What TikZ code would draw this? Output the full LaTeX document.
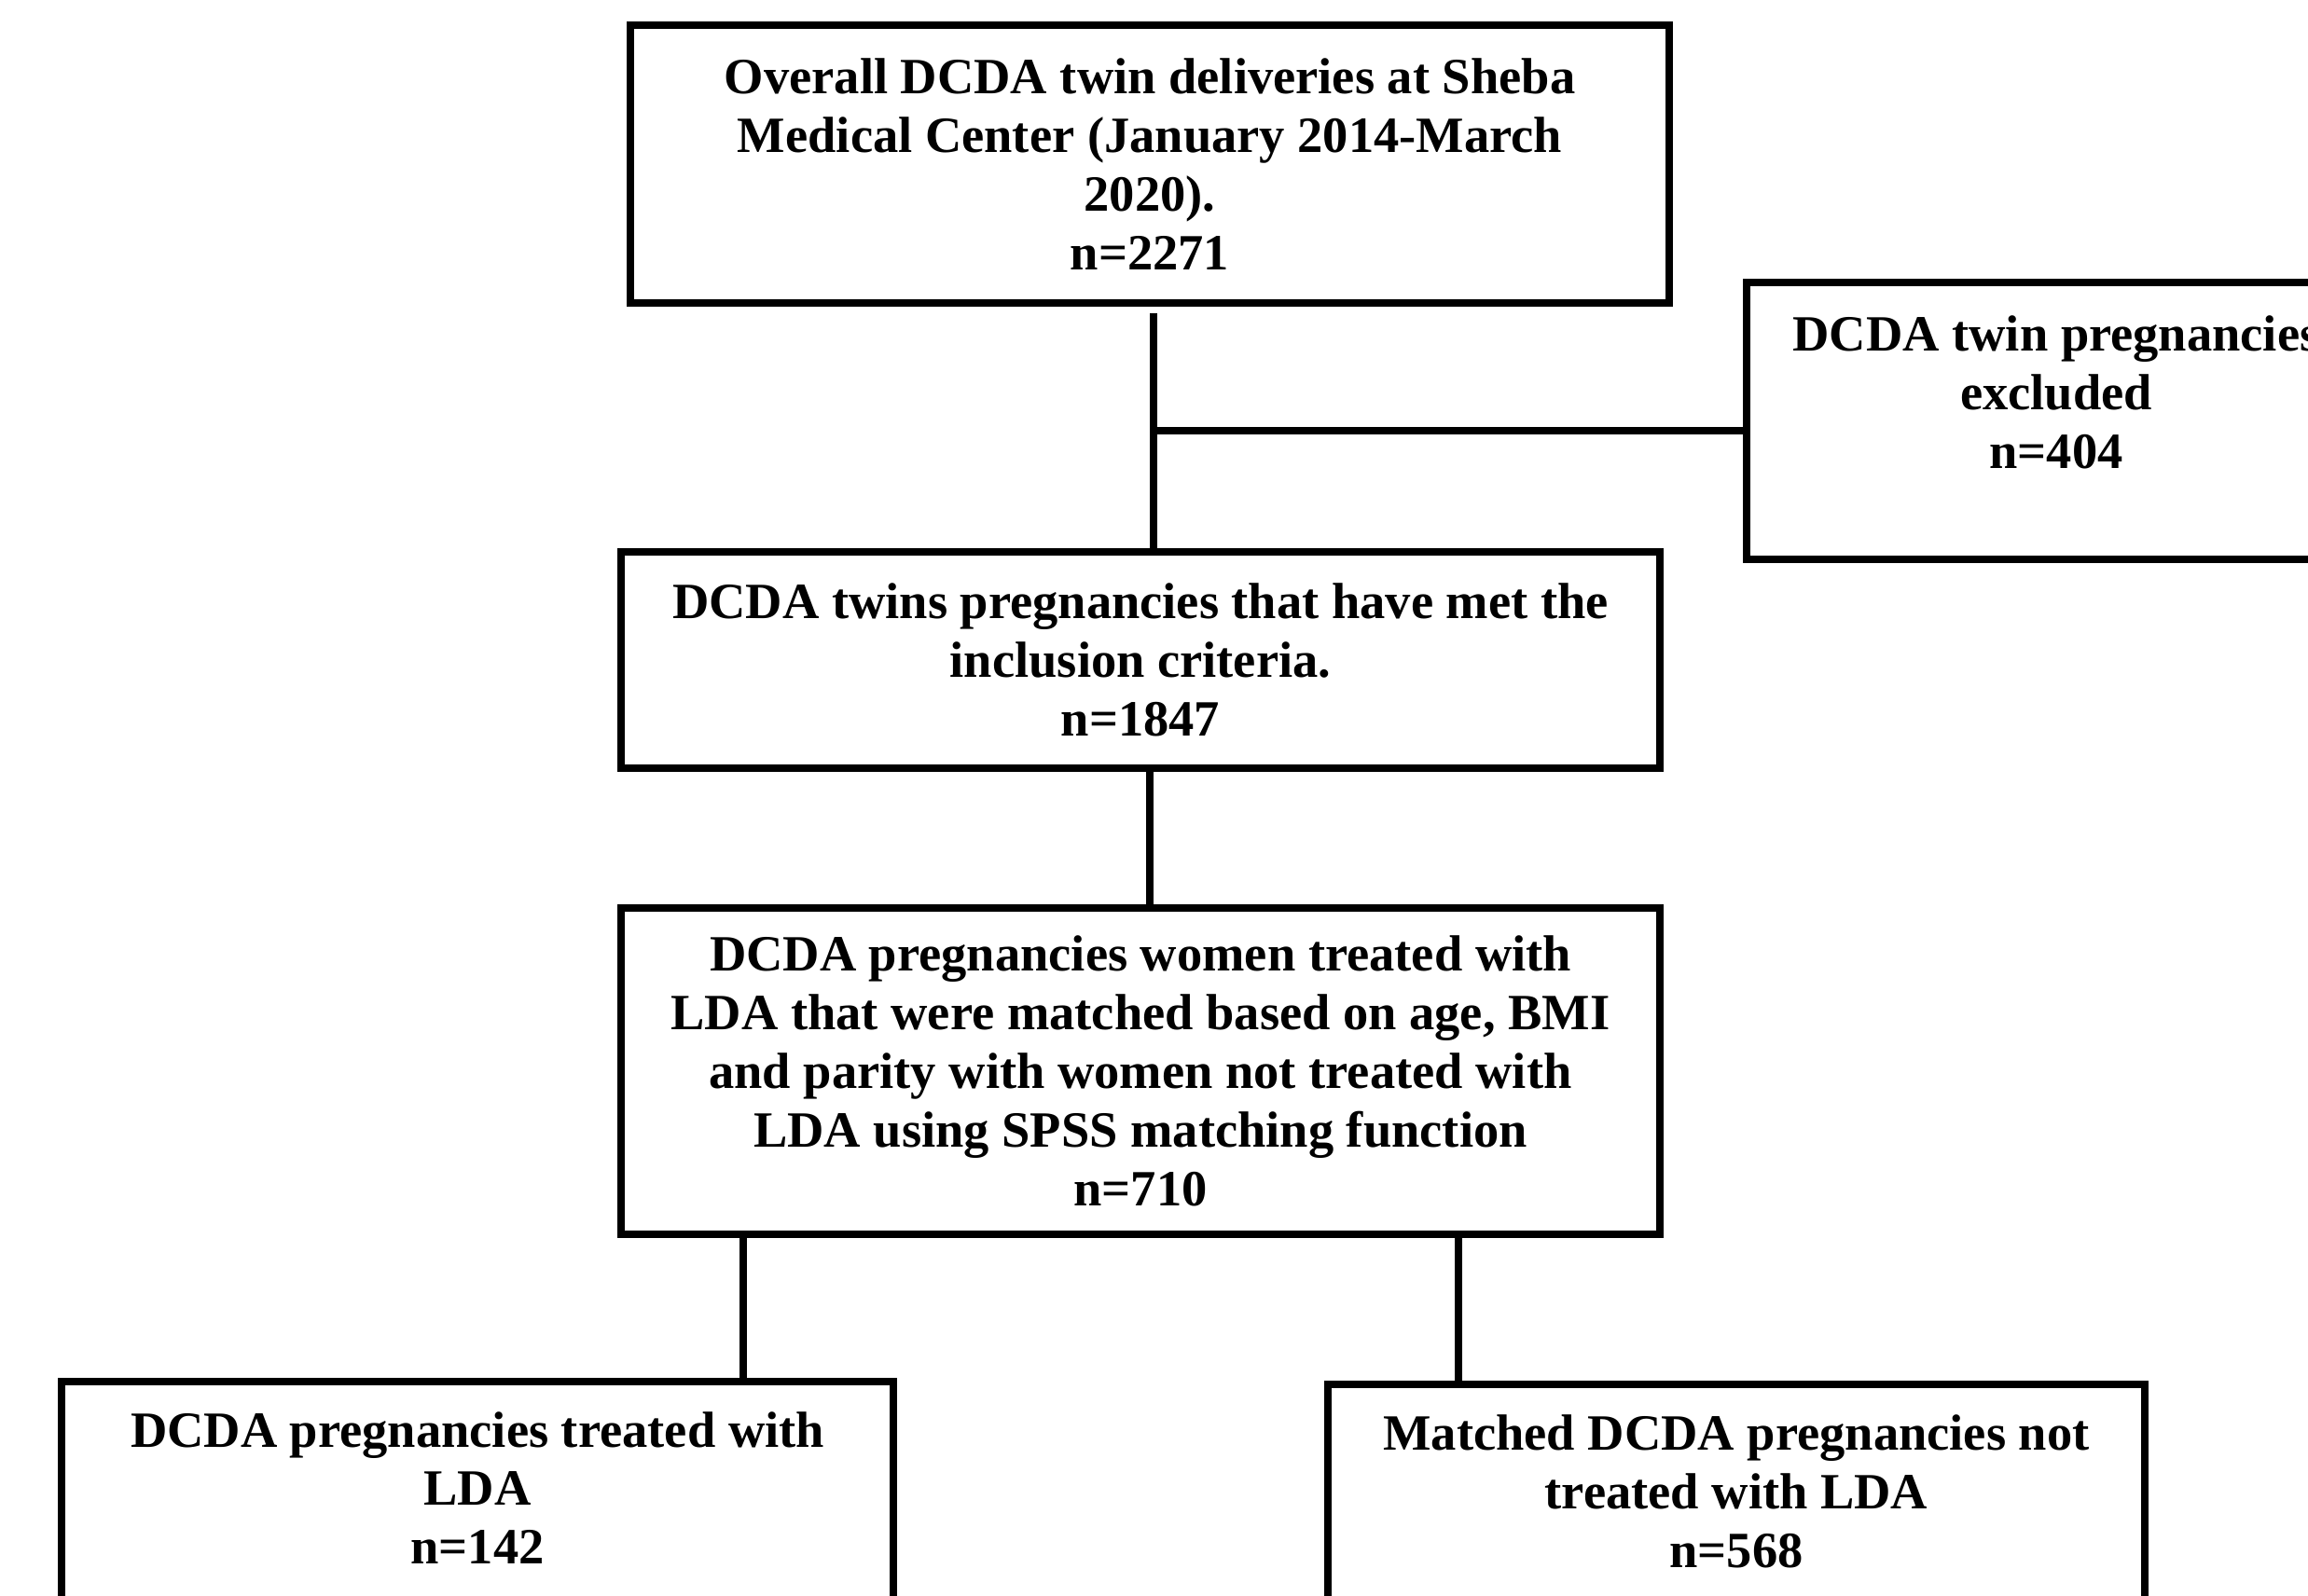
\documentclass[tikz,border=0pt]{standalone}
\usepackage{fontspec}
\setmainfont{Liberation Serif}
\begin{document}
\begin{tikzpicture}[
  box/.style={draw=black, line width=2.5pt, rectangle, inner sep=0pt},
  txt/.style={align=center, font=\bfseries\fontsize{15.5}{17.9}\selectfont},
  conn/.style={draw=black, line width=2.5pt}
]
\useasboundingbox (0,0) rectangle (24.75,17.11);
\clip (0,0) rectangle (24.75,17.11);
\fill[white] (0,0) rectangle (24.75,17.11);

\node[box, txt, minimum width=11.14cm, minimum height=2.98cm] (top) at (12.33,15.35)
  {Overall DCDA twin deliveries at Sheba\\Medical Center (January 2014-March\\2020).\\n=2271};

\node[box, minimum width=6.64cm, minimum height=2.97cm] (excl) at (22.05,12.595) {};
\node[txt] (excltxt) at (22.05,12.90) {DCDA twin pregnancies\\excluded\\n=404};

\node[box, txt, minimum width=11.14cm, minimum height=2.32cm] (b2) at (12.23,10.03)
  {DCDA twins pregnancies that have met the\\inclusion criteria.\\n=1847};

\node[box, txt, minimum width=11.14cm, minimum height=3.50cm] (b3) at (12.23,5.62)
  {DCDA pregnancies women treated with\\LDA that were matched based on age, BMI\\and parity with women not treated with\\LDA using SPSS matching function\\n=710};

\node[box, minimum width=8.92cm, minimum height=2.79cm] (b4) at (5.12,0.895) {};
\node[txt] (b4txt) at (5.12,1.15) {DCDA pregnancies treated with\\LDA\\n=142};

\node[box, minimum width=8.76cm, minimum height=2.76cm] (b5) at (18.62,0.88) {};
\node[txt] (b5txt) at (18.62,1.11) {Matched DCDA pregnancies not\\treated with LDA\\n=568};

\coordinate (t1) at (12.37,13.75);
\coordinate (junc) at (12.37,12.49);
\coordinate (c4) at (7.97,0);
\coordinate (c5) at (15.64,0);

\draw[conn] (t1) -- (t1 |- b2.north);
\draw[conn] (junc) -- (junc -| excl.west);
\draw[conn] ([xshift=1mm]b2.south) -- ([xshift=1mm]b3.north);
\draw[conn] (b3.south -| c4) -- (b4.north -| c4);
\draw[conn] (b3.south -| c5) -- (b5.north -| c5);
\end{tikzpicture}
\end{document}
